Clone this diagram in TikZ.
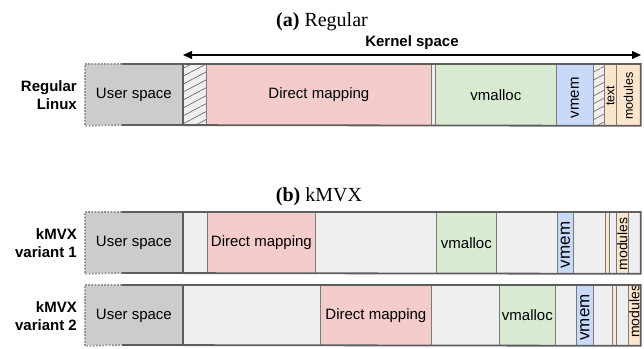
\documentclass[tikz,border=0pt]{standalone}
\usepackage{fontspec}
\setsansfont{Liberation Sans}
\newfontfamily\titlefont{Liberation Serif}
\usetikzlibrary{arrows.meta,positioning,patterns.meta}
\definecolor{UserGrey}{HTML}{CCCCCC}
\definecolor{SpareGrey}{HTML}{EFEFEF}
\definecolor{DmPink}{HTML}{F4CCCC}
\definecolor{VmGreen}{HTML}{D9EAD3}
\definecolor{VmemBlue}{HTML}{C9DAF8}
\definecolor{TextOrange}{HTML}{FCE5CD}
\definecolor{SegLine}{HTML}{7A7A7A}
\definecolor{FrameGrey}{HTML}{5E5E5E}
\tikzset{
  seg/.style={draw=SegLine,line width=0.8pt,inner sep=0pt,anchor=north west,
              font=\sffamily\fontsize{15}{18}\selectfont},
  rowa/.style={minimum height=61pt},
  rowb/.style={minimum height=61pt},
  rowc/.style={minimum height=60pt},
  userbox/.style={seg,fill=UserGrey,draw=none},
  sparebox/.style={seg,fill=SpareGrey},
  dmbox/.style={seg,fill=DmPink},
  vmbox/.style={seg,fill=VmGreen},
  vmembox/.style={seg,fill=VmemBlue},
  textbox/.style={seg,fill=TextOrange},
  hatchbox/.style={seg,preaction={fill=SpareGrey},
                   pattern={Lines[angle=28,distance=7pt,line width=0.6pt]},
                   pattern color=FrameGrey},
  vlabel/.style={rotate=90,inner sep=0pt,font=\sffamily\fontsize{15}{18}\selectfont},
  vsmall/.style={rotate=90,inner sep=0pt,font=\sffamily\fontsize{12.5}{14}\selectfont},
  rowlabel/.style={align=right,anchor=east,inner sep=0pt,
                   font=\sffamily\bfseries\fontsize{15}{18}\selectfont},
  barframe/.style={draw=FrameGrey,line width=1.8pt},
  dotframe/.style={draw=SegLine!80,line width=1.8pt,dash pattern=on 1.8pt off 1.4pt},
  parttitle/.style={font=\titlefont\fontsize{20}{22}\selectfont}
}
\begin{document}
\begin{tikzpicture}[x=1pt,y=-1pt]
  \useasboundingbox (0,0) rectangle (644,348);
  % (a) regular layout
  \node[parttitle] (ta) at (322,22) {\textbf{(a)} Regular};
  \coordinate (ks-l) at (183,55);
  \coordinate (ks-r) at (641,55);
  \draw[{Triangle[length=9pt,width=8pt]}-{Triangle[length=9pt,width=8pt]},line width=1.3pt]
        (ks-l) -- (ks-r)
        node[midway,above=1pt,font=\sffamily\bfseries\fontsize{15}{18}\selectfont] (ks) {Kernel space};
  \node[rowlabel] (la) at (77,95) {Regular\\Linux};
  \node[userbox,rowa,minimum width=97pt]  (a-us)   at (85,64)  {User space};
  \node[hatchbox,rowa,minimum width=24pt] (a-h1)   at (182,64) {};
  \node[dmbox,rowa,minimum width=225pt]   (a-dm)   at (206,64) {Direct mapping};
  \node[sparebox,rowa,minimum width=4pt]  (a-g1)   at (431,64) {};
  \node[vmbox,rowa,minimum width=121pt]   (a-vm)   at (435,64) {vmalloc};
  \node[vmembox,rowa,minimum width=37pt]  (a-vmem) at (556,64) {};
  \node[hatchbox,rowa,minimum width=11pt] (a-h2)   at (593,64) {};
  \node[textbox,rowa,minimum width=12pt]  (a-txt)  at (604,64) {};
  \node[textbox,rowa,minimum width=24pt]  (a-mod)  at (616,64) {};
  \node[vlabel] (a-vmem-t) at ([yshift=-3pt]a-vmem.center) {vmem};
  \node[vsmall] (a-txt-t)  at ([yshift=-1pt]a-txt.center) {text};
  \node[vsmall] (a-mod-t)  at ([yshift=-1pt]a-mod.center) {modules};
  \draw[barframe] (a-us.north east) -- (a-us.south east);
  \draw[dotframe] (122,64) -- (a-us.north west) -- (a-us.south west) -- (122,125);
  \draw[barframe] (122,64) -| (a-mod.south east) -- (122,125);
  % (b) kMVX layout
  \node[parttitle] (tb) at (319,197) {\textbf{(b)} kMVX};
  \node[rowlabel] (lb1) at (77,243) {kMVX\\variant 1};
  \node[userbox,rowb,minimum width=97pt]   (b1-us)   at (85,212)  {User space};
  \node[sparebox,rowb,minimum width=25pt]  (b1-g1)   at (182,212) {};
  \node[dmbox,rowb,minimum width=108pt]    (b1-dm)   at (207,212) {Direct mapping};
  \node[sparebox,rowb,minimum width=121pt] (b1-g2)   at (315,212) {};
  \node[vmbox,rowb,minimum width=60pt]     (b1-vm)   at (436,212) {vmalloc};
  \node[sparebox,rowb,minimum width=61pt]  (b1-g3)   at (496,212) {};
  \node[vmembox,rowb,minimum width=16pt]   (b1-vmem) at (557,212) {};
  \node[sparebox,rowb,minimum width=32pt]  (b1-g4)   at (573,212) {};
  \node[textbox,rowb,minimum width=4pt]    (b1-txt)  at (605,212) {};
  \node[sparebox,rowb,minimum width=7pt]   (b1-g5)   at (609,212) {};
  \node[textbox,rowb,minimum width=12pt]   (b1-mod)  at (616,212) {};
  \node[sparebox,rowb,minimum width=12pt]  (b1-g6)   at (628,212) {};
  \node[vlabel,font=\sffamily\fontsize{17}{18}\selectfont] (b1-vmem-t) at ([yshift=-2pt]b1-vmem.center) {vmem};
  \node[vlabel,font=\sffamily\fontsize{14}{16}\selectfont] (b1-mod-t)  at ([yshift=-1pt]b1-mod.center) {modules};
  \draw[barframe] (b1-us.north east) -- (b1-us.south east);
  \draw[dotframe] (122,212) -- (b1-us.north west) -- (b1-us.south west) -- (122,273);
  \draw[barframe] (122,212) -| (b1-g6.south east) -- (122,273);
  \node[rowlabel] (lb2) at (77,316) {kMVX\\variant 2};
  \node[userbox,rowc,minimum width=97pt]   (b2-us)   at (85,285)  {User space};
  \node[sparebox,rowc,minimum width=138pt] (b2-g1)   at (182,285) {};
  \node[dmbox,rowc,minimum width=111pt]    (b2-dm)   at (320,285) {Direct mapping};
  \node[sparebox,rowc,minimum width=68pt]  (b2-g2)   at (431,285) {};
  \node[vmbox,rowc,minimum width=56pt]     (b2-vm)   at (499,285) {vmalloc};
  \node[sparebox,rowc,minimum width=21pt]  (b2-g3)   at (555,285) {};
  \node[vmembox,rowc,minimum width=17pt]   (b2-vmem) at (576,285) {};
  \node[sparebox,rowc,minimum width=19pt]  (b2-g4)   at (593,285) {};
  \node[textbox,rowc,minimum width=4pt]    (b2-txt)  at (612,285) {};
  \node[sparebox,rowc,minimum width=12pt]  (b2-g5)   at (616,285) {};
  \node[textbox,rowc,minimum width=12pt]   (b2-mod)  at (628,285) {};
  \node[vlabel,font=\sffamily\fontsize{17}{18}\selectfont] (b2-vmem-t) at ([yshift=-2pt]b2-vmem.center) {vmem};
  \begin{scope}
    \clip (b2-mod.north west) rectangle (b2-mod.south east);
    \node[vlabel,font=\sffamily\fontsize{14}{16}\selectfont] (b2-mod-t) at ([yshift=4pt]b2-mod.center) {modules};
  \end{scope}
  \draw[barframe] (b2-us.north east) -- (b2-us.south east);
  \draw[dotframe] (122,285) -- (b2-us.north west) -- (b2-us.south west) -- (122,345);
  \draw[barframe] (122,285) -| (b2-mod.south east) -- (122,345);
\end{tikzpicture}
\end{document}
